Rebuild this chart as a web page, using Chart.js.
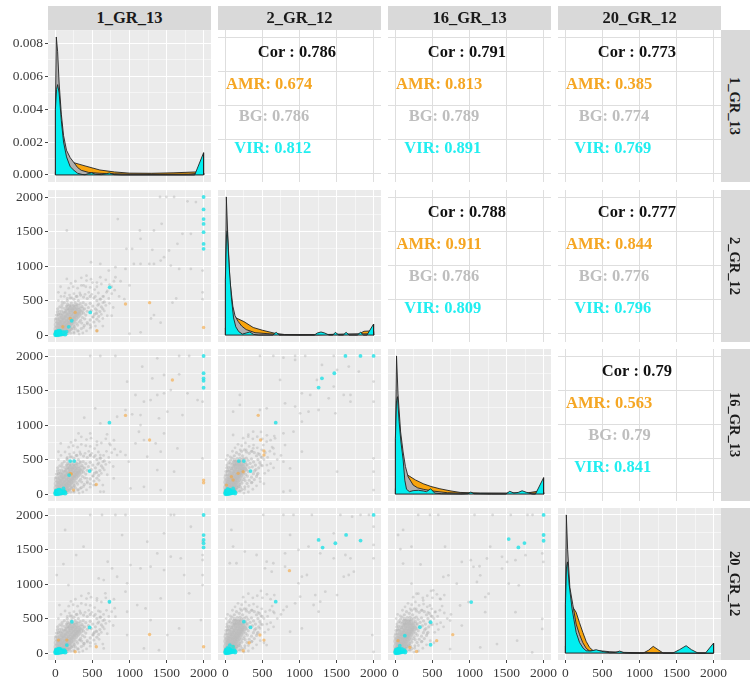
<!DOCTYPE html>
<html>
<head>
<meta charset="utf-8">
<script src="https://cdn.jsdelivr.net/npm/chart.js@4"></script>
<style>
html, body { margin: 0; padding: 0; background: #fff; }
#wrapper { position: relative; width: 752px; height: 680px; overflow: hidden; filter: blur(0.45px); font-family: "Liberation Serif", serif; }
canvas { position: absolute; }
.strip { position: absolute; background: #d9d9d9; color: #1a1a1a; font-weight: bold; font-size: 16.5px; display: flex; align-items: center; justify-content: center; }
.strip.right { writing-mode: vertical-rl; font-size: 14.5px; padding-right: 3px; box-sizing: border-box; }
</style>
</head>
<body>
<div id="wrapper"></div>
<script>
var names = ['1_GR_13', '2_GR_12', '16_GR_13', '20_GR_12'];
var valueTicks = [0, 500, 1000, 1500, 2000];
var valueMinor = [250, 750, 1250, 1750];
var densityTicks = [0, 0.002, 0.004, 0.006, 0.008];
var densityMinor = [0.001, 0.003, 0.005, 0.007];

// correlation text, upper triangle, [row, col]
var corCells = [[0, 1], [0, 2], [0, 3], [1, 2], [1, 3], [2, 3]];
var corAll = ['0.786', '0.791', '0.773', '0.788', '0.777', '0.79'];
var corAMR = ['0.674', '0.813', '0.385', '0.911', '0.844', '0.563'];
var corBG = ['0.786', '0.789', '0.774', '0.786', '0.776', '0.79'];
var corVIR = ['0.812', '0.891', '0.769', '0.809', '0.796', '0.841'];

// densities, flat x,y lists
var amr11 = [0,.0002, 50,.0006, 100,.0008, 222,.00078, 400,.00055, 600,.0003, 800,.00018, 1000,.00011, 1300,.0001, 1600,.00013, 1890,.00018, 1950,.00015, 2000,.0001];
var bg11 = [0,.004, 12,.0084, 30,.0075, 50,.0056, 80,.0037, 110,.0024, 150,.0015, 200,.00105, 250,.00075, 300,.00045, 350,.00028, 450,.00015, 600,.0001, 800,.00007, 1000,.00005, 1400,.00004, 1800,.00005, 2000,.00012];
var vir11 = [0,.004, 15,.0052, 30,.0055, 50,.005, 80,.0033, 110,.002, 150,.0011, 200,.0005, 250,.00028, 300,.0001, 360,.00003, 400,.00001, 450,.00009, 490,.00013, 540,.00004, 620,.00002, 690,.00008, 730,.00012, 790,.00002, 900,0, 1880,0, 2000,.00135];

var amr22 = [0,100, 60,180, 127,257, 250,195, 375,110, 500,70, 692,20, 800,8, 1000,3, 1800,15, 1870,55, 1960,60, 2000,50];
var bg22 = [0,800, 12,2000, 30,1500, 60,800, 100,420, 130,280, 170,200, 220,130, 280,80, 400,35, 600,18, 800,8, 1200,5, 2000,20];
var vir22 = [0,800, 15,1450, 25,1510, 50,1000, 80,550, 110,250, 140,120, 180,50, 230,15, 280,30, 330,45, 380,10, 450,0, 640,0, 685,40, 730,0, 1200,0, 1240,30, 1290,45, 1340,30, 1400,0, 1450,0, 1484,40, 1530,0, 1590,0, 1629,40, 1670,0, 1780,0, 1823,40, 1865,0, 1910,0, 2000,160];

var amr33 = [0,80, 100,180, 172,271, 270,205, 375,150, 480,110, 600,77, 750,45, 873,24, 1145,15, 1500,12, 1800,20, 1914,40, 2000,30];
var bg33 = [0,800, 15,2000, 35,1450, 70,900, 104,610, 135,400, 172,250, 240,130, 300,90, 375,70, 500,45, 700,20, 1000,10, 2000,15];
var vir33 = [0,800, 15,1350, 28,1410, 50,1050, 75,750, 104,500, 127,200, 150,70, 190,35, 240,50, 310,55, 375,45, 420,35, 475,77, 530,15, 620,5, 900,0, 980,5, 1018,30, 1060,5, 1300,0, 1490,0, 1543,40, 1600,15, 1660,25, 1710,48, 1770,25, 1850,0, 1890,0, 2000,237];

var amr44 = [0,100, 50,400, 100,665, 145,590, 190,440, 235,300, 280,170, 326,82, 380,30, 450,10, 800,0, 1050,0, 1120,40, 1185,97, 1250,50, 1320,0, 2000,0];
var bg44 = [0,800, 12,2000, 30,1500, 60,950, 100,700, 145,420, 190,270, 235,150, 280,70, 326,30, 400,40, 500,30, 600,20, 800,10, 1000,5, 2000,0];
var vir44 = [0,700, 15,1250, 28,1320, 50,1000, 90,640, 145,300, 190,155, 240,70, 280,34, 340,30, 416,48, 490,25, 600,5, 680,10, 733,29, 790,5, 880,0, 1450,0, 1540,50, 1629,107, 1700,50, 1790,0, 1890,0, 2000,145];

// dense part of the grey clouds, estimated, points can't be told apart there
var coreWide = [12,20, 35,12, 28,55, 62,30, 15,88, 50,70, 85,48, 72,95, 38,122, 108,66, 98,118, 58,150, 130,92, 122,148, 85,172, 150,118, 148,172, 105,205, 44,190, 175,142, 172,195, 132,228, 74,232, 198,170, 196,222, 155,258, 102,262, 222,190, 220,248, 178,285, 128,298, 245,218, 244,275, 200,312, 160,335, 268,240, 266,300, 225,338, 290,268, 288,325, 250,365, 205,372, 312,292, 310,350, 272,392, 335,322, 228,405, 300,410, 352,372, 180,400, 18,150, 22,210, 60,275, 20,40, 45,38, 80,22, 115,35, 150,70, 185,95, 225,135];
var coreSteep = [10,22, 28,14, 20,60, 45,34, 10,96, 38,78, 62,52, 55,105, 25,132, 82,72, 74,125, 42,160, 98,100, 92,158, 62,188, 112,130, 110,188, 78,222, 30,205, 130,155, 128,212, 98,248, 55,252, 148,185, 146,242, 115,280, 75,290, 165,210, 164,270, 132,310, 92,328, 182,238, 180,300, 148,340, 118,365, 200,265, 198,330, 165,372, 218,295, 215,360, 185,405, 150,410, 232,325, 230,390, 200,438, 250,355, 170,445, 222,448, 262,410, 130,450, 12,170, 15,240, 42,305, 14,42, 32,44, 60,28, 85,40, 110,80, 135,105, 165,150];

var outerWide = [8,240, 14,290, 25,335, 40,300, 55,345, 70,310, 88,350, 90,400, 110,330, 125,385, 140,350, 150,420, 170,380, 165,450, 195,430, 215,465, 245,430, 265,470, 290,445, 310,500, 335,455, 360,415, 375,470, 395,380, 410,440, 430,345, 445,400, 470,460, 485,355, 505,420, 525,300, 540,380, 410,290, 380,320, 365,255, 395,235, 340,215, 355,175, 320,190, 300,145, 280,170, 258,125, 240,95, 270,90, 215,85, 195,62, 170,50, 140,38, 110,18, 160,20, 205,30, 250,45, 300,60, 350,95, 390,140, 430,180, 470,220, 505,265, 550,320, 585,270, 560,230, 520,190, 470,150, 600,340, 620,410, 585,450, 640,380, 660,480, 610,520, 560,500, 520,540, 470,560, 430,530, 380,550, 340,580, 290,560, 250,520, 200,540, 160,500, 120,470, 90,440, 60,410, 30,380];
var outerSteep = [6,280, 10,330, 18,380, 30,340, 40,385, 52,350, 66,395, 68,445, 82,370, 94,430, 105,395, 112,470, 128,425, 124,500, 146,475, 160,515, 184,480, 198,520, 218,495, 232,555, 252,505, 270,460, 282,520, 296,425, 308,490, 322,385, 334,445, 352,510, 364,395, 380,465, 394,335, 405,420, 308,325, 285,355, 274,285, 296,260, 255,240, 266,195, 240,210, 225,160, 210,190, 194,140, 180,105, 203,100, 161,95, 146,70, 128,55, 105,42, 82,20, 120,22, 154,33, 188,50, 225,66, 262,105, 292,155, 322,200, 352,245, 378,295, 412,355, 438,300, 420,255, 390,210, 352,165, 450,380, 465,455, 439,500, 480,420, 495,530, 458,575, 420,555, 390,600, 352,620, 322,590, 285,610, 255,640, 218,620, 188,575, 150,600, 120,555, 90,520, 68,490, 45,455, 22,420];

// looser grey points around the dense part
var looseWide = [310,60, 380,110, 430,160, 510,260, 560,310, 570,430, 640,470, 600,520, 540,560, 490,590, 450,620, 400,590, 330,610, 280,560, 250,600, 220,540, 190,580, 160,530, 40,500, 75,560, 130,610, 180,680, 240,700, 300,680, 350,720, 410,700, 470,690, 530,660, 580,610, 650,560, 690,620, 720,530, 760,600, 800,650, 680,430, 730,460, 780,400, 620,300, 660,350, 700,280, 590,200, 540,130, 470,100, 420,60, 370,30, 320,15, 250,25, 640,130, 560,760, 620,740, 680,800, 730,730, 790,780, 420,790, 480,810, 350,830, 270,780, 210,750];
var looseSteep = [200,40, 260,70, 310,110, 360,170, 430,280, 500,410, 520,500, 480,540, 440,590, 360,620, 280,640, 200,640, 10,500, 30,560, 65,540, 95,620, 130,670, 170,720, 220,700, 270,740, 320,690, 380,710, 430,670, 490,640, 540,600, 570,530, 600,620, 630,680, 660,580, 700,500, 750,560, 560,420, 610,440, 530,300, 580,340, 650,380, 470,180, 520,150, 420,120, 370,70, 310,30, 250,15, 500,800, 560,850, 610,780, 660,840, 430,830, 480,900, 370,800, 310,860, 240,810];
var virNearOrigin = [4,4, 16,8, 8,24, 28,14, 40,6, 22,32, 36,28, 50,18, 12,44, 32,48, 58,38, 72,14, 84,28, 48,56, 68,50, 98,20, 116,36, 130,14];

// scatter points, flat x,y lists, one list per panel and group
var bg21 = [1412,2000, 1498,2000, 1602,2000, 1783,1937, 1896,1927, 842,1680, 154,1515, 1330,1515, 1434,1612, 1140,1515, 1149,1395, 959,1250, 1036,1250, 1308,1235, 1534,1225, 1715,1467, 1828,1467, 1647,1322, 1466,1128, 1421,1080, 1059,1031, 1149,1031, 1267,1031, 1330,1031, 1557,1007, 1670,959, 1828,959, 1986,935, 480,1055, 606,1031, 154,813, 810,983, 946,959, 720,935, 810,838, 606,838, 880,780, 1000,720, 1986,620, 1986,520, 1630,530, 1580,470, 1420,180, 1150,40, 1000,20, 1330,290, 1290,240, 760,700, 700,640, 640,560, 560,700, 500,760, 420,860, 380,720, 860,560, 930,520, 760,280, 640,240, 560,360, 480,120, 560,60, 70,700, 40,620, 120,560, 90,480];
var amr21 = [2000,110, 946,450, 1271,470, 560,63, 267,329, 200,240, 100,120, 60,60];
var vir21 = [2000,2000, 2000,1820, 2000,1680, 2000,1610, 2000,1490, 2000,1320, 2000,1250, 733,692, 470,329, 220,208, 110,40, 150,50, 180,120];

var bg31 = [470,2000, 606,2000, 810,2000, 1670,2000, 1805,2000, 1375,1966, 1172,1845, 1466,1725, 1670,1735, 968,1628, 1308,1676, 1375,1435, 1466,1459, 1081,1435, 1195,1338, 1285,1362, 1557,1507, 1783,1459, 1919,1362, 1986,1338, 538,1241, 946,1217, 1036,1155, 1149,1145, 389,1106, 833,1120, 1398,1097, 1511,1193, 1715,1145, 606,1024, 1149,1000, 470,879, 697,865, 312,879, 1127,903, 1466,879, 1195,783, 1353,734, 1081,734, 1421,614, 1647,662, 1986,517, 1240,541, 833,565, 946,565, 606,565, 470,565, 561,710, 742,710, 878,614, 991,469, 1375,348, 1602,324, 606,34, 652,34, 1014,82, 1195,106, 1421,58, 335,82, 425,227, 516,130, 787,227, 72,734, 41,613, 154,517, 335,469];
var amr31 = [1579,1652, 946,1140, 1271,783, 552,140, 2000,203, 2000,165, 199,300, 244,58, 131,34, 215,290];
var vir31 = [2000,2000, 2000,1750, 2000,1676, 2000,1640, 2000,1540, 729,1034, 462,333, 199,478, 253,478, 185,275, 109,82, 63,34];

var bg41 = [470,2000, 629,2000, 810,2000, 946,2000, 1557,2000, 1602,2000, 131,1783, 108,1290, 380,1541, 280,1420, 900,1710, 1466,1734, 1240,1613, 1375,1444, 1557,1396, 1692,1372, 1828,1830, 1986,1613, 1986,1420, 1986,1348, 1986,1130, 1986,985, 706,1323, 584,1082, 652,1058, 765,1227, 1014,1275, 1149,1227, 1285,1251, 1466,1203, 1738,1130, 968,1010, 833,1106, 176,985, 448,865, 561,792, 674,865, 946,889, 1104,696, 1217,647, 1421,792, 1805,865, 1964,478, 968,599, 606,599, 810,527, 1285,478, 1670,357, 335,188, 652,68, 1195,68, 1398,43, 968,261, 516,285, 380,140, 1511,261, 18,1130, 54,696, 222,502];
var amr41 = [2000,92, 1271,270, 552,92, 41,188, 267,19, 154,188];
var vir41 = [2000,2000, 2000,1710, 2000,1638, 2000,1590, 2000,1531, 729,744, 462,372, 222,454, 154,116, 70,20];

var bg32 = [466,2000, 647,2000, 783,1975, 941,2000, 1077,2000, 1462,2000, 941,1942, 1303,1870, 1665,1845, 1801,1773, 2000,1628, 1507,1797, 1235,1652, 738,1652, 1462,1556, 1032,1459, 1145,1435, 195,1435, 1394,1386, 1597,1435, 1688,1435, 195,1290, 104,1193, 466,1217, 557,1241, 805,1314, 941,1266, 1258,1217, 1009,1169, 1122,1193, 1484,1169, 2000,1338, 1688,1338, 1032,1048, 919,903, 783,879, 670,807, 104,855, 375,903, 308,831, 557,758, 805,710, 647,662, 1032,614, 511,710, 783,469, 873,372, 1507,324, 466,227, 783,34, 873,48, 2000,58, 2000,324, 2000,517, 240,517, 375,662];
var amr32 = [443,1140, 475,783, 520,623, 520,565, 240,324, 172,300, 104,203, 14,130, 81,251];
var vir32 = [2000,2000, 1823,2000, 1620,2000, 1470,1749, 1303,1676, 1258,1541, 679,1034, 339,333, 249,478, 181,478, 104,82, 30,75];

var bg42 = [511,2000, 783,2000, 919,2000, 1167,2000, 1552,2000, 1710,1975, 1824,2000, 1937,2000, 81,1783, 104,1541, 149,1300, 59,1300, 262,1469, 421,1420, 557,1323, 647,1300, 805,1444, 986,1493, 1122,1541, 873,1710, 1280,1444, 1462,1734, 1620,1420, 1688,1372, 1462,1372, 2000,1372, 2000,1565, 2000,1830, 1032,1106, 805,1251, 534,1227, 625,1178, 1597,1106, 1733,1178, 1665,1130, 986,1010, 1100,1130, 1190,696, 1507,840, 828,671, 941,720, 647,599, 783,623, 1258,599, 1032,357, 466,357, 557,116, 873,309, 1982,261, 2000,19, 1213,840, 1348,889, 1280,744, 1009,816];
var amr42 = [864,1193, 466,261, 520,188, 240,34, 321,150, 104,92];
var vir42 = [2000,2000, 1258,1638, 1312,1527, 1484,1590, 1629,1710, 1824,1628, 679,744, 339,372, 249,454, 104,92, 60,115, 30,75];

var bg43 = [308,2000, 466,2000, 579,2000, 1068,2000, 1312,2000, 1557,2000, 1783,2000, 1851,2000, 104,1782, 36,1709, 68,1505, 217,1539, 670,1539, 1280,1539, 104,1296, 339,1282, 896,1320, 647,1102, 1018,1345, 1054,1248, 1136,1257, 1439,1393, 1507,1320, 1439,1223, 1235,1369, 1756,1417, 1982,1442, 1996,1320, 1620,1345, 1665,981, 1529,1005, 511,908, 715,1126, 828,1005, 1100,1029, 1145,1126, 217,1005, 285,859, 1213,811, 1258,859, 602,786, 873,689, 986,738, 1620,592, 1212,592, 738,471, 896,398, 1982,495, 1982,350, 1643,180, 1145,82, 1371,131, 1846,10, 738,58, 466,689, 375,762, 534,592];
var amr43 = [774,267, 557,180, 285,24, 36,180, 195,82, 40,70];
var vir43 = [2000,2000, 2000,1709, 2000,1626, 1529,1650, 1742,1592, 1660,1529, 1023,738, 475,447, 330,374, 475,121, 127,252, 59,107, 90,60];

var lowerData = {
    '1_0': [bg21, amr21, vir21, coreWide, outerWide, looseWide],
    '2_0': [bg31, amr31, vir31, coreWide, outerWide, looseWide],
    '3_0': [bg41, amr41, vir41, coreWide, outerWide, looseWide],
    '2_1': [bg32, amr32, vir32, coreSteep, outerSteep, looseSteep],
    '3_1': [bg42, amr42, vir42, coreSteep, outerSteep, looseSteep],
    '3_2': [bg43, amr43, vir43, coreSteep, outerSteep, looseSteep]
};
var diagData = [[amr11, bg11, vir11], [amr22, bg22, vir22], [amr33, bg33, vir33], [amr44, bg44, vir44]];

var colX = [48, 218, 388, 558];
var rowY = [30, 190, 349, 508];
var panelW = 163, panelH = 152;
var padL = 48, padB = 26, padR = 22, padT = 10;

var tickGrey = '#3a3a3a';
var fontFamily = '"Liberation Serif", serif';

function toPoints(flat) {
    var pts = [];
    for (var i = 0; i < flat.length; i += 2) {
        pts.push({x: flat[i], y: flat[i + 1]});
    }
    return pts;
}

// density curve, taken down to the baseline at both ends
function closedCurve(flat) {
    var pts = toPoints(flat);
    pts.unshift({x: pts[0].x, y: 0});
    pts.push({x: pts[pts.length - 1].x, y: 0});
    return pts;
}

function densitySet(flat, color) {
    return {
        data: closedCurve(flat),
        showLine: true,
        fill: 'origin',
        backgroundColor: color,
        borderColor: '#222',
        borderWidth: 0.9,
        pointRadius: 0,
        tension: 0
    };
}

function baselineSet() {
    return {
        data: [{x: 0, y: 0}, {x: 2000, y: 0}],
        showLine: true,
        fill: false,
        borderColor: '#222',
        borderWidth: 1,
        pointRadius: 0
    };
}

function dotSet(flat, color, radius) {
    return {
        data: toPoints(flat),
        showLine: false,
        backgroundColor: color,
        borderWidth: 0,
        pointRadius: radius
    };
}

function axisOptions(major, minor, range, showLabels, grid, fmt, fitSize, horizontal) {
    var all = major.concat(minor || []);
    var isMajor = function(v) { return major.indexOf(v) >= 0; };
    return {
        min: range[0],
        max: range[1],
        afterBuildTicks: function(scale) {
            scale.ticks = all.map(function(v) { return {value: v}; });
        },
        afterFit: function(scale) {
            if (showLabels) {
                if (horizontal) { scale.height = fitSize; } else { scale.width = fitSize; }
            }
        },
        border: {display: false},
        grid: {
            color: grid,
            lineWidth: function(c) { return c.tick && isMajor(c.tick.value) ? 1 : 0.5; },
            drawTicks: showLabels,
            tickLength: 3,
            tickColor: function(c) { return c.tick && isMajor(c.tick.value) ? '#444' : 'rgba(0,0,0,0)'; }
        },
        ticks: {
            display: showLabels,
            autoSkip: false,
            maxRotation: 0,
            padding: 2,
            color: tickGrey,
            font: {family: fontFamily, size: 13.5},
            callback: function(v) { return isMajor(v) ? fmt(v) : ''; }
        }
    };
}

var panelBack = {
    id: 'panelBack',
    beforeDraw: function(chart) {
        var a = chart.chartArea;
        chart.ctx.fillStyle = chart.options.plugins.panelBack.color;
        chart.ctx.fillRect(a.left, a.top, a.width, a.height);
    }
};

var corLabels = {
    id: 'corLabels',
    afterDatasetsDraw: function(chart) {
        var items = chart.options.plugins.corLabels.items || [];
        var ctx = chart.ctx;
        ctx.save();
        ctx.textAlign = 'center';
        ctx.textBaseline = 'middle';
        ctx.font = 'bold 16.5px ' + fontFamily;
        items.forEach(function(it) {
            ctx.fillStyle = it.color;
            ctx.fillText(it.text, chart.scales.x.getPixelForValue(it.x), chart.scales.y.getPixelForValue(it.y));
        });
        ctx.restore();
    }
};

function addPanel(row, col, datasets, yOpts, xOpts, back, items) {
    var canvas = document.createElement('canvas');
    canvas.width = panelW + padL + padR;
    canvas.height = panelH + padT + padB;
    canvas.style.left = (colX[col] - padL) + 'px';
    canvas.style.top = (rowY[row] - padT) + 'px';
    document.getElementById('wrapper').appendChild(canvas);

    new Chart(canvas, {
        type: 'scatter',
        data: {datasets: datasets},
        plugins: [panelBack, corLabels],
        options: {
            responsive: false,
            animation: false,
            layout: {padding: {
                left: col === 0 ? 0 : padL,
                right: padR,
                top: padT,
                bottom: row === 3 ? 0 : padB
            }},
            scales: {x: xOpts, y: yOpts},
            plugins: {
                legend: {display: false},
                tooltip: {enabled: false},
                panelBack: {color: back},
                corLabels: {items: items || []}
            }
        }
    });
}

function addStrip(text, left, top, width, height, right) {
    var d = document.createElement('div');
    d.className = right ? 'strip right' : 'strip';
    d.style.left = left + 'px';
    d.style.top = top + 'px';
    d.style.width = width + 'px';
    d.style.height = height + 'px';
    d.textContent = text;
    document.getElementById('wrapper').appendChild(d);
}

function plainFmt(v) { return String(v); }
function densFmt(v) { return v.toFixed(3); }

function app() {
    var r, c;
    for (r = 0; r < 4; r++) {
        for (c = 0; c < 4; c++) {
            var showX = r === 3, showY = c === 0;
            var cellIndex = -1;
            if (c > r) {
                corCells.forEach(function(cell, i) { if (cell[0] === r && cell[1] === c) { cellIndex = i; } });
                var line = '#dedede';
                var lx = [965, 590, 655, 640];
                if (r === 2) { lx = [965, 590, 730, 638]; }
                addPanel(r, c, [],
                    axisOptions(valueTicks, null, [-118, 2113], false, line, plainFmt, 0, false),
                    axisOptions(valueTicks, null, [-100, 2100], false, line, plainFmt, 0, true),
                    '#ffffff',
                    [
                        {text: 'Cor : ' + corAll[cellIndex], x: lx[0], y: 1780, color: '#111111'},
                        {text: 'AMR: ' + corAMR[cellIndex], x: lx[1], y: 1310, color: '#f5a623'},
                        {text: 'BG: ' + corBG[cellIndex], x: lx[2], y: 840, color: '#bebebe'},
                        {text: 'VIR: ' + corVIR[cellIndex], x: lx[3], y: 370, color: '#22eef0'}
                    ]);
            } else {
                var xAxis = axisOptions(valueTicks, valueMinor, [-100, 2100], showX, '#ffffff', plainFmt, padB, true);
                var yAxis, sets;
                if (r === c) {
                    var d = diagData[r];
                    sets = [baselineSet(), densitySet(d[2], '#00eef0'), densitySet(d[1], '#b0b0b0'), densitySet(d[0], '#f7a30c')];
                    if (r === 0) {
                        yAxis = axisOptions(densityTicks, densityMinor, [-0.00043, 0.00882], showY, '#ffffff', densFmt, padL, false);
                    } else {
                        yAxis = axisOptions(valueTicks, valueMinor, [-100, 2100], showY, '#ffffff', plainFmt, padL, false);
                    }
                } else {
                    var s = lowerData[r + '_' + c];
                    sets = [
                        dotSet(s[2], 'rgba(30,225,230,0.8)', 1.9),
                        dotSet(virNearOrigin, 'rgba(10,230,235,0.85)', 2.4),
                        dotSet(s[1], 'rgba(245,165,60,0.6)', 1.7),
                        dotSet(s[0], 'rgba(180,180,180,0.45)', 1.4),
                        dotSet(s[5], 'rgba(180,180,180,0.45)', 1.4),
                        dotSet(s[4], 'rgba(180,180,180,0.5)', 1.6),
                        dotSet(s[3], 'rgba(187,187,187,0.55)', 3)
                    ];
                    yAxis = axisOptions(valueTicks, valueMinor, [-100, 2100], showY, '#ffffff', plainFmt, padL, false);
                }
                addPanel(r, c, sets, yAxis, xAxis, '#ebebeb');
            }
        }
    }
    for (c = 0; c < 4; c++) {
        addStrip(names[c], colX[c], 6, panelW, 24, false);
    }
    for (r = 0; r < 4; r++) {
        addStrip(names[r], 721, rowY[r], 29, panelH, true);
    }
}

app();
</script>
</body>
</html>
